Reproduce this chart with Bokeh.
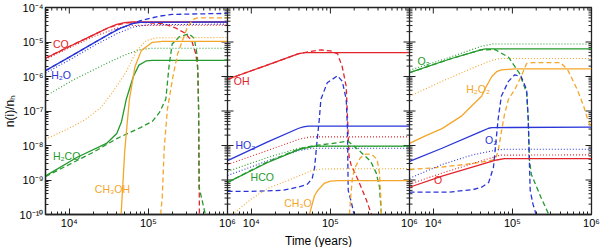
import numpy as np
from bokeh.plotting import figure
from bokeh.models import Range1d, LogScale, FixedTicker, Span, Label, Title
from bokeh.embed import file_html
from bokeh.resources import INLINE

RED, BLUE, GREEN, ORANGE = "#e3242b", "#2a35d8", "#239a2b", "#f4a62a"
FONT = "Liberation Sans"
INK = "#222222"

T_MIN, T_MAX = 5e3, 1e6
N_MIN, N_MAX = 1e-10, 1e-4

X_TICKS = [1e4, 1e5, 1e6]
X_TICK_LABELS = ["10⁴", "10⁵", "10⁶"]
X_MINOR = [6e3, 7e3, 8e3, 9e3, 2e4, 3e4, 4e4, 5e4, 6e4, 7e4, 8e4, 9e4,
           2e5, 3e5, 4e5, 5e5, 6e5, 7e5, 8e5, 9e5]
Y_TICKS = [1e-10, 1e-9, 1e-8, 1e-7, 1e-6, 1e-5, 1e-4]
Y_TICK_LABELS = ["10⁻¹⁰", "10⁻⁹", "10⁻⁸", "10⁻⁷", "10⁻⁶", "10⁻⁵", "10⁻⁴"]
Y_MINOR = [m * d for d in [1e-10, 1e-9, 1e-8, 1e-7, 1e-6, 1e-5] for m in range(2, 10)]
X_TITLE = "Time (years)"
Y_TITLE = "n(i)/nₕ"

# ---- values: log10(time / yr), log10(n(i)/nH) ----
# panel 1
co_s_t = [3.70, 4.0, 4.3, 4.5, 4.6, 4.7, 4.8, 6.0]
co_s_n = [-5.47, -5.13, -4.80, -4.58, -4.49, -4.44, -4.42, -4.42]
co_d_t = [3.70, 4.0, 4.3, 4.5, 4.7, 4.9, 5.2, 5.35, 5.47, 5.55, 5.6, 5.625, 5.635, 5.645]
co_d_n = [-5.47, -5.13, -4.80, -4.58, -4.45, -4.43, -4.47, -4.6, -4.75, -4.98, -5.35, -5.8, -7.0, -10.0]
co_o_t = [3.70, 4.0, 4.3, 4.6, 4.8, 6.0]
co_o_n = [-5.5, -5.17, -4.85, -4.6, -4.52, -4.51]

h2o_s_t = [3.70, 4.0, 4.3, 4.5, 4.65, 4.8, 4.9, 6.0]
h2o_s_n = [-5.83, -5.44, -5.04, -4.78, -4.6, -4.47, -4.43, -4.42]
h2o_d_t = [3.70, 4.0, 4.3, 4.6, 4.9, 5.14, 5.3, 6.0]
h2o_d_n = [-5.83, -5.44, -5.04, -4.64, -4.38, -4.25, -4.2, -4.17]
h2o_o_t = [3.70, 4.0, 4.3, 4.6, 4.8, 5.0, 6.0]
h2o_o_n = [-5.9, -5.52, -5.12, -4.76, -4.57, -4.5, -4.48]

h2co_s_t = [3.70, 4.10, 4.47, 4.60, 4.66, 4.72, 4.81, 4.88, 4.97, 5.05, 6.0]
h2co_s_n = [-8.88, -8.34, -7.94, -7.65, -7.31, -6.66, -6.0, -5.67, -5.55, -5.53, -5.53]
h2co_d_t = [3.70, 4.0, 4.3, 4.6, 4.9, 5.05, 5.14, 5.22, 5.26, 5.30, 5.39, 5.51, 5.58, 5.62, 5.635, 5.64, 5.72]
h2co_d_n = [-8.9, -8.55, -8.2, -7.8, -7.48, -7.3, -7.04, -6.66, -5.72, -5.06, -4.85, -4.76, -4.89, -5.44, -7.0, -9.2, -10.0]
h2co_o_t = [3.70, 4.05, 4.47, 4.7, 4.9, 5.05, 6.0]
h2co_o_n = [-6.57, -6.10, -5.62, -5.38, -5.22, -5.18, -5.18]

ch3oh_s_t = [4.655, 4.68, 4.70, 4.73, 4.76, 4.83, 4.91, 5.05, 5.18, 6.0]
ch3oh_s_n = [-10.0, -9.0, -8.18, -7.4, -6.66, -5.72, -5.25, -5.01, -4.98, -4.98]
ch3oh_d_t = [5.155, 5.175, 5.20, 5.24, 5.31, 5.37, 5.43, 5.49, 5.56, 5.62, 6.0]
ch3oh_d_n = [-10.0, -9.5, -8.08, -6.95, -6.0, -5.34, -4.96, -4.59, -4.35, -4.30, -4.30]
ch3oh_o_t = [3.70, 4.0, 4.2, 4.4, 4.55, 4.72, 4.85, 4.97, 5.1, 6.0]
ch3oh_o_n = [-7.82, -7.5, -7.25, -6.9, -6.45, -5.86, -5.25, -4.96, -4.88, -4.87]

# panel 2
oh_s_t = [3.70, 4.2, 4.6, 4.64, 4.68, 6.0]
oh_s_n = [-6.08, -5.67, -5.34, -5.32, -5.31, -5.31]
oh_d_t = [3.70, 4.2, 4.6, 4.75, 4.88, 5.0, 5.09, 5.15, 5.20, 5.22, 5.235, 5.26, 5.35, 5.45, 5.52]
oh_d_n = [-6.08, -5.67, -5.34, -5.27, -5.23, -5.26, -5.34, -5.72, -6.29, -7.4, -8.3, -8.55, -9.0, -9.55, -10.0]
oh_o_t = [3.70, 4.2, 4.6, 4.75, 6.0]
oh_o_n = [-8.55, -8.15, -7.82, -7.75, -7.75]

ho2_s_t = [3.70, 4.2, 4.6, 4.66, 4.72, 6.0]
ho2_s_n = [-8.44, -7.9, -7.5, -7.46, -7.44, -7.44]
ho2_d_t = [3.70, 4.0, 4.4, 4.6, 4.71, 4.77, 4.80, 4.83, 4.86, 4.88, 4.96, 5.09, 5.15, 5.20, 5.215, 5.225, 5.26, 5.30]
ho2_d_n = [-9.33, -9.33, -9.3, -9.2, -9.12, -8.95, -8.64, -7.9, -7.23, -6.66, -6.18, -5.98, -6.14, -6.66, -7.5, -9.3, -9.6, -10.0]
ho2_o_t = [3.70, 4.2, 4.6, 4.78, 6.0]
ho2_o_n = [-8.87, -8.45, -8.15, -8.08, -8.08]

hco_s_t = [3.70, 4.2, 4.6, 4.8, 6.0]
hco_s_n = [-9.07, -8.5, -8.12, -8.02, -8.02]
hco_d_t = [3.70, 4.2, 4.6, 4.8, 5.0, 5.22, 5.38, 5.51, 5.58, 5.62, 5.645]
hco_d_n = [-9.07, -8.48, -8.1, -8.0, -7.95, -7.87, -8.18, -8.46, -8.8, -9.2, -10.0]
hco_o_t = [3.70, 4.2, 4.6, 4.75, 6.0]
hco_o_n = [-8.75, -8.35, -8.08, -8.03, -8.03]

ch3o_s_t = [4.735, 4.77, 4.80, 4.84, 4.92, 5.0, 5.1, 6.0]
ch3o_s_n = [-10.0, -9.7, -9.45, -9.3, -9.1, -9.03, -9.02, -9.02]
ch3o_d_t = [5.24, 5.26, 5.28, 5.32, 5.38, 5.45, 5.52, 5.59, 5.62, 5.635, 5.645]
ch3o_d_n = [-10.0, -9.4, -8.9, -8.6, -8.35, -8.25, -8.25, -8.4, -8.8, -9.4, -10.0]
ch3o_o_t = [3.76, 4.0, 4.2, 4.5, 4.76, 4.9, 6.0]
ch3o_o_n = [-10.0, -9.55, -9.25, -8.98, -8.73, -8.68, -8.67]

# panel 3
o3_s_t = [3.70, 4.2, 4.6, 4.66, 6.0]
o3_s_n = [-5.89, -5.5, -5.23, -5.2, -5.2]
o3_d_t = [3.70, 4.2, 4.6, 4.78, 4.95, 5.09, 5.18, 5.20, 5.215, 5.24, 5.36, 5.46]
o3_d_n = [-5.89, -5.5, -5.23, -5.22, -5.44, -5.91, -6.48, -7.23, -8.4, -8.84, -9.5, -10.0]
o3_o_t = [3.70, 4.2, 4.6, 4.75, 6.0]
o3_o_n = [-5.82, -5.45, -5.13, -5.06, -5.06]

h2o2_s_t = [3.70, 3.9, 4.11, 4.36, 4.61, 4.67, 4.74, 4.8, 4.86, 5.03, 6.0]
h2o2_s_n = [-7.94, -7.72, -7.51, -7.14, -6.57, -6.29, -6.0, -5.86, -5.81, -5.78, -5.78]
h2o2_d_t = [3.70, 4.0, 4.4, 4.7, 4.78, 4.82, 4.86, 4.90, 4.95, 5.03, 5.11, 5.18, 5.26, 5.61, 5.70, 5.82, 5.90, 5.95, 6.0]
h2o2_d_n = [-8.69, -8.65, -8.55, -8.45, -8.4, -8.17, -7.61, -7.1, -6.66, -6.38, -6.0, -5.62, -5.6, -5.6, -5.81, -6.38, -6.85, -7.23, -7.5]
h2o2_o_t = [3.70, 4.11, 4.5, 4.74, 4.85, 6.0]
h2o2_o_n = [-6.57, -6.14, -5.75, -5.53, -5.48, -5.48]

o2_s_t = [3.70, 4.11, 4.6, 4.7, 4.74, 6.0]
o2_s_n = [-8.46, -8.08, -7.6, -7.5, -7.48, -7.47]
o2_d_t = [3.70, 4.2, 4.5, 4.61, 4.70, 4.76, 4.80, 4.82, 4.86, 4.95, 5.03, 5.11, 5.18, 5.20, 5.215, 5.225, 5.26, 5.30]
o2_d_n = [-9.35, -9.35, -9.28, -9.21, -9.07, -8.64, -7.70, -7.23, -6.57, -6.14, -5.95, -6.0, -6.38, -7.23, -8.5, -9.3, -9.7, -10.0]
o2_o_t = [3.70, 4.11, 4.5, 4.8, 4.9, 6.0]
o2_o_n = [-8.95, -8.55, -8.27, -8.13, -8.11, -8.11]

o_s_t = [3.70, 4.11, 4.61, 4.8, 4.9, 6.0]
o_s_n = [-9.21, -8.89, -8.55, -8.42, -8.38, -8.38]
o_o_t = [3.70, 4.11, 4.6, 4.85, 6.0]
o_o_n = [-9.12, -8.8, -8.45, -8.28, -8.27]

SOLID, DASH, DOT = "solid", "5 3", "1 2"
SERIES = [
    (0, co_s_t, co_s_n, RED, SOLID), (0, co_d_t, co_d_n, RED, DASH), (0, co_o_t, co_o_n, RED, DOT),
    (0, h2o_s_t, h2o_s_n, BLUE, SOLID), (0, h2o_d_t, h2o_d_n, BLUE, DASH), (0, h2o_o_t, h2o_o_n, BLUE, DOT),
    (0, h2co_s_t, h2co_s_n, GREEN, SOLID), (0, h2co_d_t, h2co_d_n, GREEN, DASH), (0, h2co_o_t, h2co_o_n, GREEN, DOT),
    (0, ch3oh_s_t, ch3oh_s_n, ORANGE, SOLID), (0, ch3oh_d_t, ch3oh_d_n, ORANGE, DASH), (0, ch3oh_o_t, ch3oh_o_n, ORANGE, DOT),
    (1, oh_s_t, oh_s_n, RED, SOLID), (1, oh_d_t, oh_d_n, RED, DASH), (1, oh_o_t, oh_o_n, RED, DOT),
    (1, ho2_s_t, ho2_s_n, BLUE, SOLID), (1, ho2_d_t, ho2_d_n, BLUE, DASH), (1, ho2_o_t, ho2_o_n, BLUE, DOT),
    (1, hco_s_t, hco_s_n, GREEN, SOLID), (1, hco_d_t, hco_d_n, GREEN, DASH), (1, hco_o_t, hco_o_n, GREEN, DOT),
    (1, ch3o_s_t, ch3o_s_n, ORANGE, SOLID), (1, ch3o_d_t, ch3o_d_n, ORANGE, DASH), (1, ch3o_o_t, ch3o_o_n, ORANGE, DOT),
    (2, o3_s_t, o3_s_n, GREEN, SOLID), (2, o3_d_t, o3_d_n, GREEN, DASH), (2, o3_o_t, o3_o_n, GREEN, DOT),
    (2, h2o2_s_t, h2o2_s_n, ORANGE, SOLID), (2, h2o2_d_t, h2o2_d_n, ORANGE, DASH), (2, h2o2_o_t, h2o2_o_n, ORANGE, DOT),
    (2, o2_s_t, o2_s_n, BLUE, SOLID), (2, o2_d_t, o2_d_n, BLUE, DASH), (2, o2_o_t, o2_o_n, BLUE, DOT),
    (2, o_s_t, o_s_n, RED, SOLID), (2, o_o_t, o_o_n, RED, DOT),
]

# species labels: (panel, text, colour, time, abundance)
LABELS = [
    (0, "CO", RED, 6.2e3, 6.0e-6), (0, "H₂O", BLUE, 5.9e3, 7.6e-7),
    (0, "H₂CO", GREEN, 6.2e3, 3.3e-9), (0, "CH₃OH", ORANGE, 2.1e4, 3.7e-10),
    (1, "OH", RED, 6.0e3, 4.9e-7), (1, "HO₂", BLUE, 6.3e3, 6.9e-9),
    (1, "HCO", GREEN, 9.8e3, 8.2e-10), (1, "CH₃O", ORANGE, 2.6e4, 1.4e-10),
    (2, "O₃", GREEN, 6.3e3, 1.9e-6), (2, "H₂O₂", ORANGE, 2.6e4, 2.9e-7),
    (2, "O₂", BLUE, 4.5e4, 9.8e-9), (2, "O", RED, 1.02e4, 6.6e-10),
]

R = T_MAX / T_MIN
X_END = T_MIN * R ** 3

p = figure(width=600, height=247, x_axis_type="log", y_axis_type="log",
           x_range=Range1d(T_MIN, X_END), y_range=Range1d(N_MIN, N_MAX),
           output_backend="svg", toolbar_location=None,
           min_border_left=0, min_border_right=9, min_border_top=7, min_border_bottom=0)
p.extra_x_ranges = {f"p{k}": Range1d(T_MIN / R ** k, T_MIN * R ** (3 - k)) for k in range(3)}
p.extra_x_scales = {f"p{k}": LogScale() for k in range(3)}
p.grid.visible = False
p.outline_line_color = INK
p.outline_line_width = 1.3

bottom = p.below[0]
left = p.left[0]

xt_major, xt_minor, x_over = [], [], {}
for k in range(3):
    for t, lab in zip(X_TICKS, X_TICK_LABELS):
        g = t * R ** k
        xt_major.append(g)
        x_over[g] = lab
    xt_minor += [m * R ** k for m in X_MINOR]
bottom.ticker = FixedTicker(ticks=xt_major, minor_ticks=xt_minor)
left.ticker = FixedTicker(ticks=Y_TICKS, minor_ticks=Y_MINOR)
bottom.major_label_overrides = x_over
left.major_label_overrides = {t: lab for t, lab in zip(Y_TICKS, Y_TICK_LABELS)}

for ax in [bottom, left]:
    ax.axis_line_color = INK
    ax.axis_line_width = 1.3
    ax.major_tick_in = 6
    ax.major_tick_out = 0
    ax.minor_tick_in = 3
    ax.minor_tick_out = 0
    ax.major_tick_line_color = INK
    ax.minor_tick_line_color = INK
    ax.major_label_text_font = FONT
    ax.major_label_text_font_size = "11px"
    ax.major_label_text_color = "black"
    ax.major_label_standoff = 2

# axis titles
p.add_layout(Title(text=X_TITLE, align="center", text_font=FONT, text_font_size="12px",
                   text_font_style="normal", text_color="black",
                   standoff=0, offset=0), "below")
p.add_layout(Title(text=Y_TITLE, align="center", text_font=FONT, text_font_size="12px",
                   text_font_style="normal", text_color="black",
                   standoff=0, offset=0), "left")

# inward ticks on the top edge, the right edge and both sides of each panel border
p.scatter(x=xt_major, y=[N_MAX] * len(xt_major), marker="dash", angle=np.pi / 2,
          size=12, line_color=INK, line_width=1)
p.scatter(x=xt_minor, y=[N_MAX] * len(xt_minor), marker="dash", angle=np.pi / 2,
          size=6, line_color=INK, line_width=1)
for b in (T_MIN * R, T_MIN * R ** 2, X_END):
    p.scatter(x=[b] * len(Y_TICKS), y=Y_TICKS, marker="dash", size=12,
              line_color=INK, line_width=1)
    p.scatter(x=[b] * len(Y_MINOR), y=Y_MINOR, marker="dash", size=6,
              line_color=INK, line_width=1)
for b in (T_MIN * R, T_MIN * R ** 2):
    p.add_layout(Span(location=b, dimension="height", line_color=INK, line_width=1.3))

for k, ts, ns, col, dash in SERIES:
    lw = 1.1 if dash == DOT else 1.3
    p.line(10 ** np.array(ts), 10 ** np.array(ns), x_range_name=f"p{k}",
           line_color=col, line_dash=dash, line_width=lw)

for k, txt, col, tx, ny in LABELS:
    p.add_layout(Label(x=tx, y=ny, x_range_name=f"p{k}", text=txt, text_color=col,
                       text_font=FONT, text_font_size="10.5px"))

open("out.html", "w").write(file_html(p, INLINE))
